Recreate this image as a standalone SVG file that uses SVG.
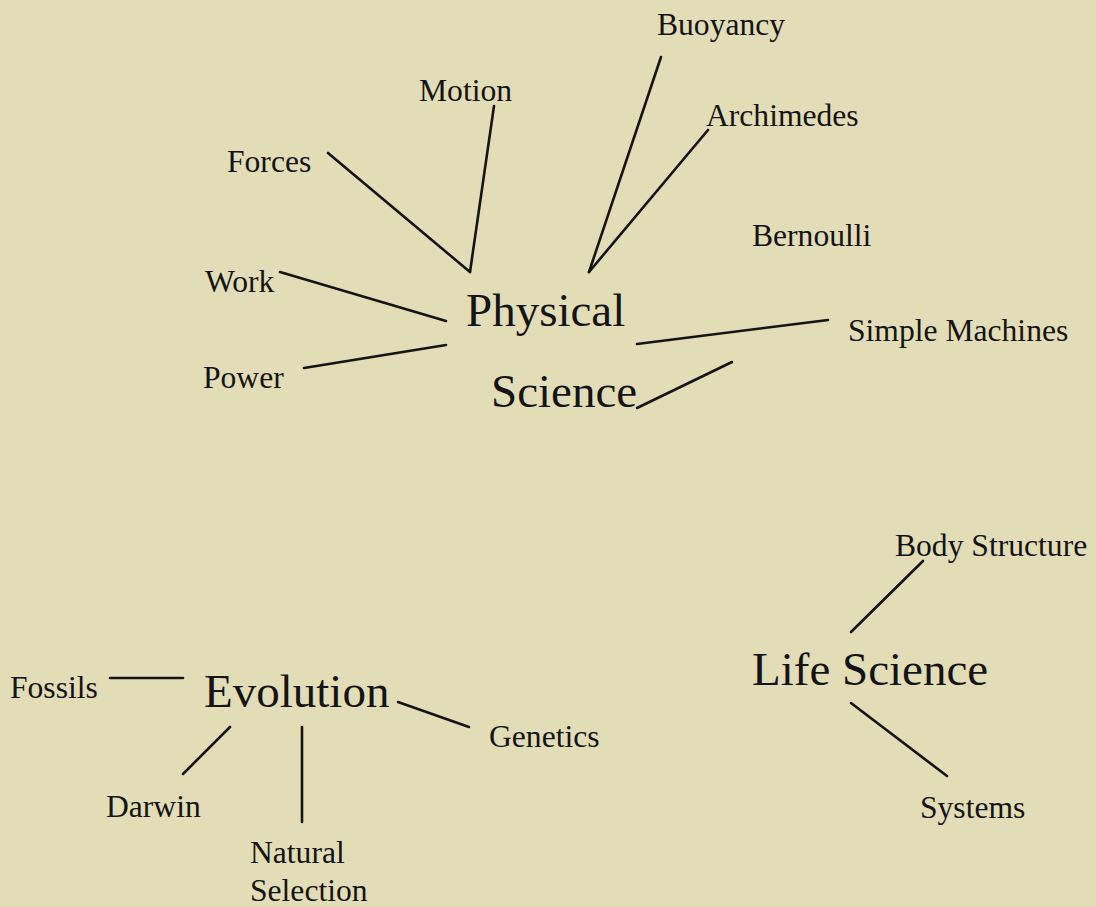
<svg xmlns="http://www.w3.org/2000/svg" width="1096" height="907" viewBox="0 0 1096 907">
<style>
.bg{fill:#e2ddb6}
.lbl{font-family:"Liberation Serif","Times New Roman",serif;font-size:31.6px;fill:#141414}
.big{font-family:"Liberation Serif","Times New Roman",serif;font-size:47px;fill:#141414}
.edge{stroke:#141414;stroke-width:2.6;fill:none;stroke-linecap:round}
</style>
<rect class="bg" x="0" y="0" width="1096" height="907"/>
<g id="connectors">
<line class="edge" x1="328" y1="153" x2="470" y2="272"/>
<line class="edge" x1="494" y1="106" x2="470" y2="272"/>
<line class="edge" x1="661" y1="57" x2="589" y2="272"/>
<line class="edge" x1="708" y1="130" x2="589" y2="272"/>
<line class="edge" x1="280" y1="272" x2="446" y2="321"/>
<line class="edge" x1="304" y1="368" x2="446" y2="345"/>
<line class="edge" x1="637" y1="344" x2="828" y2="320"/>
<line class="edge" x1="637" y1="408" x2="732" y2="362"/>
<line class="edge" x1="923" y1="561" x2="851" y2="632"/>
<line class="edge" x1="851" y1="703" x2="947" y2="776"/>
<line class="edge" x1="110" y1="678" x2="183" y2="678"/>
<line class="edge" x1="230" y1="727" x2="183" y2="774"/>
<line class="edge" x1="302" y1="727" x2="302" y2="822"/>
<line class="edge" x1="398" y1="702" x2="469" y2="727"/>
</g>
<g id="physical-science"><text class="big" x="466" y="326">Physical</text><text class="big" x="491" y="407">Science</text></g>
<g id="motion"><text class="lbl" x="419" y="101">Motion</text></g>
<g id="forces"><text class="lbl" x="227" y="172">Forces</text></g>
<g id="work"><text class="lbl" x="205" y="292">Work</text></g>
<g id="power"><text class="lbl" x="203" y="388">Power</text></g>
<g id="buoyancy"><text class="lbl" x="657" y="35">Buoyancy</text></g>
<g id="archimedes"><text class="lbl" x="706" y="126">Archimedes</text></g>
<g id="bernoulli"><text class="lbl" x="752" y="246">Bernoulli</text></g>
<g id="simple-machines"><text class="lbl" x="848" y="341">Simple Machines</text></g>
<g id="life-science"><text class="big" x="752" y="685">Life Science</text></g>
<g id="body-structure"><text class="lbl" x="895" y="556">Body Structure</text></g>
<g id="systems"><text class="lbl" x="920" y="818">Systems</text></g>
<g id="evolution"><text class="big" x="204" y="707">Evolution</text></g>
<g id="fossils"><text class="lbl" x="10" y="698">Fossils</text></g>
<g id="darwin"><text class="lbl" x="106" y="817">Darwin</text></g>
<g id="genetics"><text class="lbl" x="489" y="747">Genetics</text></g>
<g id="natural-selection"><text class="lbl" x="250" y="863">Natural</text><text class="lbl" x="250" y="901">Selection</text></g>
</svg>
